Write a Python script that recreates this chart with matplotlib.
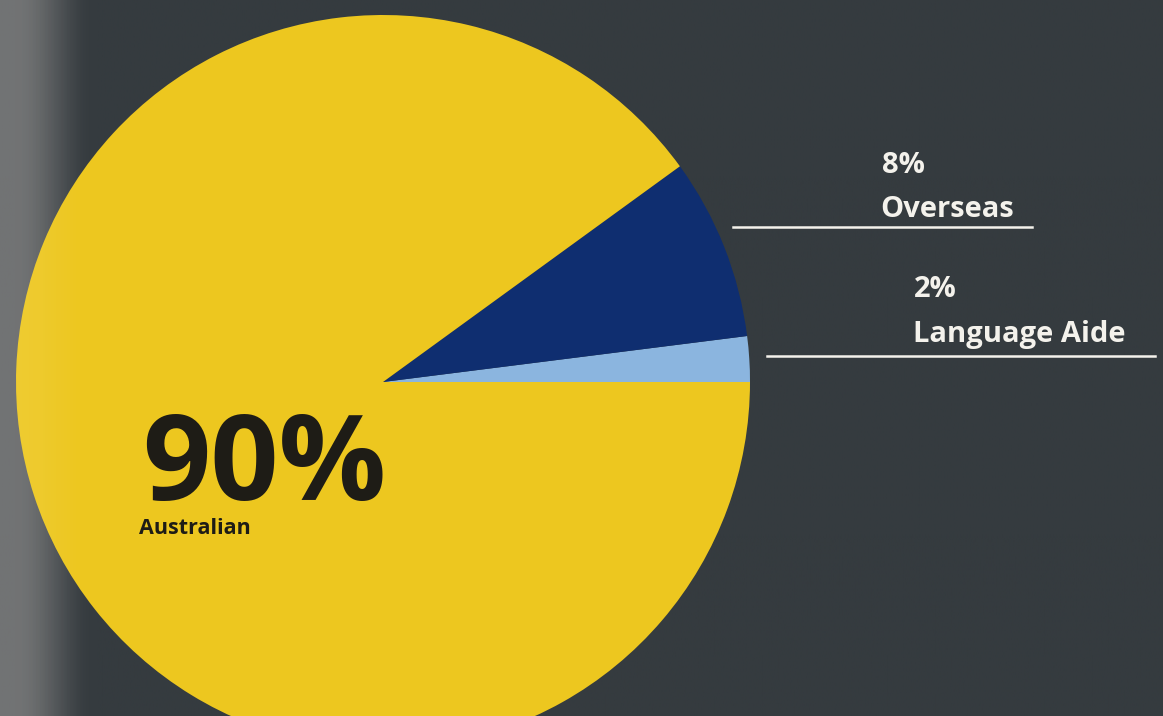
import numpy as np
import matplotlib
matplotlib.use("Agg")
import matplotlib.pyplot as plt

labels = ["Language Aide", "Overseas", "Australian"]
values = [2, 8, 90]
pct_labels = ["2%", "8%", "90%"]
colors = ["#8BB5DF", "#0F2E70", "#EDC71F"]

W, H = 1163, 716
fig = plt.figure(figsize=(W / 100, H / 100), dpi=100)
ax = fig.add_axes([0, 0, 1, 1])
ax.set_xlim(0, W)
ax.set_ylim(0, H)
ax.set_aspect("equal")
ax.axis("off")

# background with lighter left edge
xs = np.linspace(0, W, 800)
base = np.array([0x35, 0x3B, 0x3F]) / 255
light = np.array([0x66, 0x68, 0x69]) / 255
t = np.clip((xs - 15) / 80, 0, 1)
t = t * t * (3 - 2 * t)
row = light[None, :] * (1 - t[:, None]) + base[None, :] * t[:, None]
img = np.repeat(row[None, :, :], 2, axis=0)
ax.imshow(img, extent=[0, W, 0, H], aspect="auto", zorder=0)

cx, cy, r = 383, H - 382, 367
ax.pie(values, colors=colors, startangle=0, counterclock=True,
       center=(cx, cy), radius=r, wedgeprops=dict(linewidth=0),
       frame=True)
ax.set_xlim(0, W)
ax.set_ylim(0, H)
ax.axis("off")

# soft lighting over the left part of the pie
shade = np.zeros((2, 800, 4))
shade[..., :3] = 1.0
shade[..., 3] = (1 - t)[None, :] * 0.08
ax.imshow(shade, extent=[0, W, 0, H], aspect="auto", zorder=5)

fam = ["Open Sans", "DejaVu Sans"]
white = "#F4F2EC"
ax.text(882, H - 173, pct_labels[1], color=white, fontsize=21,
        family=fam, weight="bold", ha="left", va="baseline")
ax.text(880, H - 217, labels[1], color=white, fontsize=21,
        family=fam, weight="bold", ha="left", va="baseline")
ax.plot([733, 1032], [H - 227, H - 227], color=white, lw=1.8, zorder=6)

ax.text(914, H - 297, pct_labels[0], color=white, fontsize=21,
        family=fam, weight="bold", ha="left", va="baseline")
ax.text(913, H - 342, labels[0], color=white, fontsize=21,
        family=fam, weight="bold", ha="left", va="baseline")
ax.plot([767, 1155], [H - 356, H - 356], color=white, lw=1.8, zorder=6)

ax.text(142, H - 500, pct_labels[2], color="#1E1C16", fontsize=86,
        family=fam, weight="bold", ha="left", va="baseline", zorder=7)
ax.text(139, H - 534, labels[2], color="#1E1C16", fontsize=15.5,
        family=fam, weight="bold", ha="left", va="baseline", zorder=7)

fig.savefig("out.png", dpi=100)
